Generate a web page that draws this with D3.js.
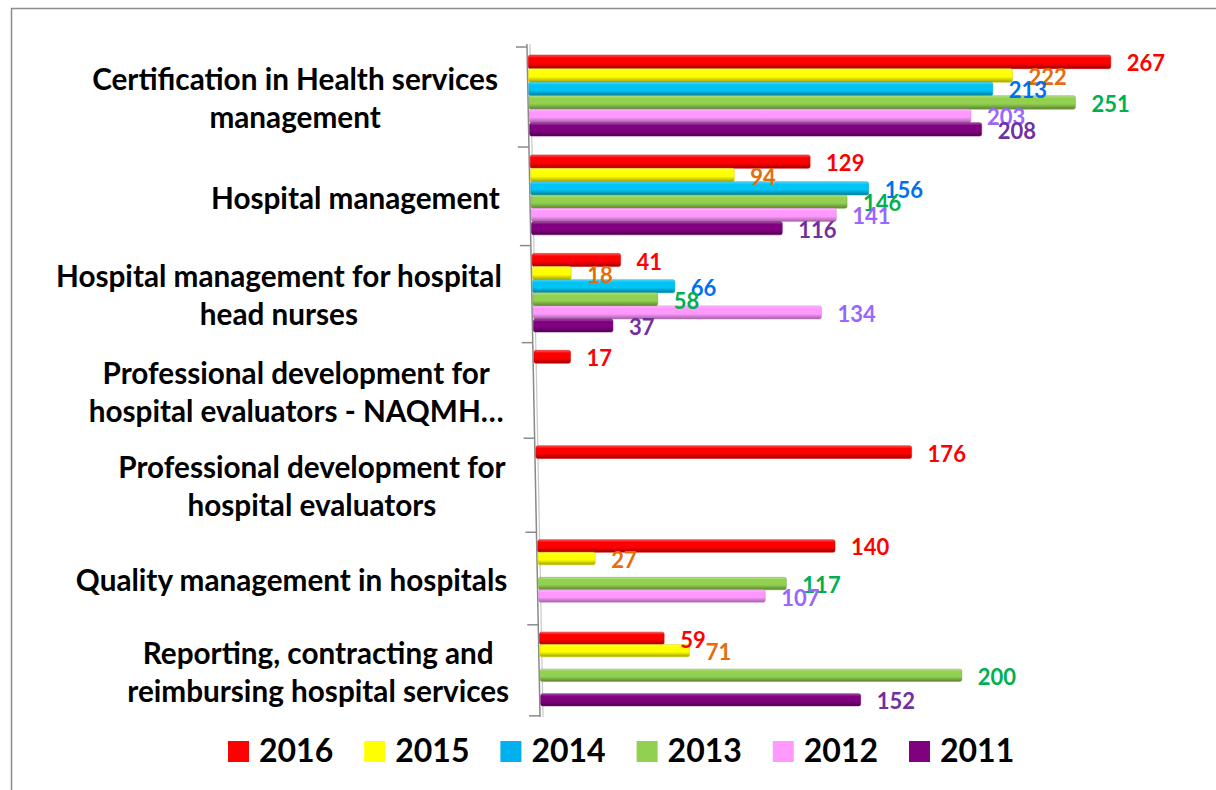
<!DOCTYPE html>
<html>
<head>
<meta charset="utf-8">
<script src="https://cdn.jsdelivr.net/npm/d3@7"></script>
<style>
body { margin: 0; background: #fff; }
svg { display: block; font-family: Lato, "Open Sans", sans-serif; }
</style>
</head>
<body>
<div id="chart"></div>
<script>
const width = 1216
const height = 790

// data
const categories = [
    "Certification in Health services\nmanagement",
    "Hospital management",
    "Hospital management for hospital\nhead nurses",
    "Professional development for\nhospital evaluators - NAQMH…",
    "Professional development for\nhospital evaluators",
    "Quality management in hospitals",
    "Reporting, contracting and\nreimbursing hospital services"
]
const years = ["2016", "2015", "2014", "2013", "2012", "2011"]
const values2016 = [267, 129, 41, 17, 176, 140, 59]
const values2015 = [222, 94, 18, null, null, 27, 71]
const values2014 = [213, 156, 66, null, null, null, null]
const values2013 = [251, 146, 58, null, null, 117, 200]
const values2012 = [203, 141, 134, null, null, 107, null]
const values2011 = [208, 116, 37, null, null, null, 152]
const series = [values2016, values2015, values2014, values2013, values2012, values2011]

const barColors = ["#ff0000", "#ffff00", "#00c4f4", "#92d050", "#ff99ff", "#800080"]
const legendColors = ["#ff0000", "#ffff00", "#00b0f0", "#92d050", "#ff99ff", "#800080"]
const labelColors = ["#ff0000", "#e46c0a", "#0070f0", "#00b050", "#9966ff", "#7030a0"]

const svg = d3.select("#chart").append("svg").attr("width", width).attr("height", height)
const defs = svg.append("defs")

// vertical shading, like the 3D cylinders
barColors.forEach((c, i) => {
    const g = defs.append("linearGradient").attr("id", "grad" + i)
        .attr("x1", 0).attr("y1", 0).attr("x2", 0).attr("y2", 1)
    g.append("stop").attr("offset", "0%").attr("stop-color", d3.interpolateRgb(c, "#fff")(0.35))
    g.append("stop").attr("offset", "20%").attr("stop-color", c)
    g.append("stop").attr("offset", "60%").attr("stop-color", c)
    g.append("stop").attr("offset", "100%").attr("stop-color", d3.color(c).darker(1.3))
})

// frame
svg.append("line").attr("x1", 11.5).attr("y1", 8).attr("x2", 11.5).attr("y2", height).attr("stroke", "#8c8c8c").attr("stroke-width", 1.5)
svg.append("line").attr("x1", 11).attr("y1", 8.5).attr("x2", width).attr("y2", 8.5).attr("stroke", "#8c8c8c").attr("stroke-width", 1.5)

// scales (with a little perspective: top is nearer than bottom)
const yTop = 47, yBottom = 715
const yBand = d3.scaleBand().domain(categories).range([0, categories.length])
const ySlot = d3.scaleBand().domain(years).range([0.08, 0.89])
const warp = u => yTop + 100.8 * u - 0.75 * u * u
const xNear = d3.scaleLinear().domain([0, 300]).range([528, 1183])
const xFar = d3.scaleLinear().domain([0, 300]).range([541, 1172])
const xAt = (v, y) => {
    const t = (y - yTop) / (yBottom - yTop)
    return xNear(v) + (xFar(v) - xNear(v)) * t
}

// axis wall
const axisGroup = svg.append("g").attr("id", "axisGroup")
axisGroup.append("line")
    .attr("x1", xAt(0, 44) - 1).attr("y1", 44).attr("x2", xAt(0, 717) - 1).attr("y2", 717)
    .attr("stroke", "#8a8a8a").attr("stroke-width", 1.5)
axisGroup.append("line")
    .attr("x1", xAt(0, 44) + 2).attr("y1", 44).attr("x2", xAt(0, 717) + 2).attr("y2", 717)
    .attr("stroke", "#c8c8c8").attr("stroke-width", 1.2)
d3.range(categories.length + 1).forEach(k => {
    const y = warp(k)
    axisGroup.append("line")
        .attr("x1", xAt(0, y) - 12).attr("y1", y).attr("x2", xAt(0, y) - 1).attr("y2", y)
        .attr("stroke", "#8a8a8a").attr("stroke-width", 1.5)
})

// bars
const bars = []
categories.forEach((c, i) => {
    years.forEach((yr, j) => {
        const v = series[j][i]
        if (v == null) return
        const u0 = yBand(c) + ySlot(yr)
        const y0 = warp(u0), y1 = warp(u0 + ySlot.bandwidth())
        const yc = (y0 + y1) / 2
        bars.push({ v, j, y0, y1, yc, x0: xAt(0, yc), x1: xAt(v, yc) })
    })
})

const elementGroup = svg.append("g").attr("id", "elementGroup")
elementGroup.selectAll("rect").data(bars)
    .enter()
    .append("rect")
        .attr("x", d => d.x0)
        .attr("y", d => d.y0)
        .attr("width", d => d.x1 - d.x0)
        .attr("height", d => d.y1 - d.y0)
        .attr("rx", 2)
        .attr("fill", d => `url(#grad${d.j})`)
        .attr("stroke", d => d3.color(barColors[d.j]).darker(0.6))
        .attr("stroke-width", 0.5)

elementGroup.selectAll("text.value").data(bars)
    .enter()
    .append("text")
        .attr("class", "value")
        .attr("x", d => d.x1 + 16)
        .attr("y", d => d.yc + 9.5)
        .attr("fill", d => labelColors[d.j])
        .attr("font-size", 22)
        .attr("font-weight", "bold")
        .text(d => d.v)

// category labels, right-aligned block, lines centred
const labelGroup = svg.append("g").attr("id", "labelGroup")
categories.forEach(c => {
    const lines = c.split("\n")
    const center = warp(yBand(c) + 0.5)
    const g = labelGroup.append("g")
    const texts = lines.map((line, k) => g.append("text")
        .attr("y", center + 12 + (k - (lines.length - 1) / 2) * 38)
        .attr("font-size", 29.7)
        .attr("font-weight", "bold")
        .attr("fill", "#000")
        .attr("text-anchor", "middle")
        .text(line))
    const maxW = d3.max(texts, t => t.node().getComputedTextLength())
    const right = xAt(0, center) - 31
    texts.forEach(t => t.attr("x", right - maxW / 2))
})

// legend
const legendX = d3.scalePoint().domain(years).range([228, 909])
const legend = svg.append("g").attr("id", "legend")
const item = legend.selectAll("g").data(years).enter().append("g")
    .attr("transform", d => `translate(${legendX(d)},741)`)
item.append("rect").attr("width", 21).attr("height", 21).attr("fill", (d, i) => legendColors[i])
item.append("text").attr("x", 31).attr("y", 21)
    .attr("font-size", 32).attr("font-weight", "bold").attr("fill", "#000")
    .text(d => d)
</script>
</body>
</html>
